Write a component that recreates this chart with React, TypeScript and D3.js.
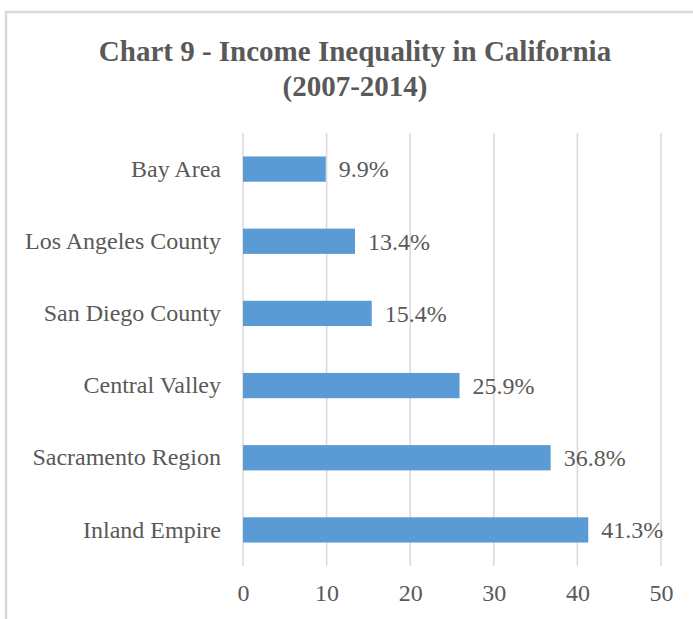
import { useEffect, useRef } from "react";
import * as d3 from "d3";

const WIDTH = 693;
const HEIGHT = 619;
const MARGIN = { top: 133, right: 32, bottom: 53, left: 243 };

const categories = [
  "Bay Area",
  "Los Angeles County",
  "San Diego County",
  "Central Valley",
  "Sacramento Region",
  "Inland Empire",
];
const values = [9.9, 13.4, 15.4, 25.9, 36.8, 41.3];
const xTicks = [0, 10, 20, 30, 40, 50];
const titleLines = ["Chart 9 - Income Inequality in California", "(2007-2014)"];

const FONT = "'Liberation Serif', 'Times New Roman', serif";
const TEXT = "#595959";

const App = () => {
  const ref = useRef<SVGGElement>(null);
  const boundsWidth = WIDTH - MARGIN.left - MARGIN.right;
  const boundsHeight = HEIGHT - MARGIN.top - MARGIN.bottom;

  const xScale = d3.scaleLinear().domain([0, 50]).range([0, boundsWidth]);
  const yScale = d3
    .scaleBand()
    .domain(categories)
    .range([0, boundsHeight])
    .paddingInner(0.65)
    .paddingOuter(0.325);

  useEffect(() => {
    const g = d3.select(ref.current);
    g.selectAll("*").remove();

    // vertical gridlines
    g.selectAll(".grid")
      .data(xTicks)
      .enter()
      .append("line")
      .attr("x1", (d) => xScale(d))
      .attr("x2", (d) => xScale(d))
      .attr("y1", 0)
      .attr("y2", boundsHeight)
      .style("stroke", "#d9d9d9")
      .style("stroke-width", 1.5);

    // bars
    g.selectAll(".bar")
      .data(values)
      .enter()
      .append("rect")
      .attr("x", xScale(0))
      .attr("y", (_, i) => yScale(categories[i]) || 0)
      .attr("width", (d) => xScale(d) - xScale(0))
      .attr("height", yScale.bandwidth())
      .style("fill", "#5b9bd5");

    // value labels
    g.selectAll(".val")
      .data(values)
      .enter()
      .append("text")
      .attr("x", (d) => xScale(d) + 13)
      .attr("y", (_, i) => (yScale(categories[i]) || 0) + yScale.bandwidth() / 2)
      .attr("dy", "0.35em")
      .style("font-family", FONT)
      .style("font-size", "24px")
      .style("fill", TEXT)
      .text((d) => `${d.toFixed(1)}%`);

    // category labels
    const yAxis = d3.axisLeft(yScale).tickSize(0).tickPadding(22);
    const ya = g.append("g").call(yAxis);
    ya.select(".domain").remove();
    ya.selectAll("text")
      .style("font-family", FONT)
      .style("font-size", "24px")
      .style("fill", TEXT);

    // x axis labels
    const xAxis = d3.axisBottom(xScale).tickValues(xTicks).tickSize(0).tickPadding(18);
    const xa = g.append("g").attr("transform", `translate(0,${boundsHeight})`).call(xAxis);
    xa.select(".domain").remove();
    xa.selectAll("text")
      .style("font-family", FONT)
      .style("font-size", "24px")
      .style("fill", TEXT);
  }, []);

  return (
    <svg width={WIDTH} height={HEIGHT} style={{ position: "absolute", left: 0, top: 0 }}>
      <rect x={0} y={0} width={WIDTH} height={HEIGHT} fill="#ffffff" />
      <rect x={6} y={12} width={WIDTH + 10} height={HEIGHT + 10} fill="none" stroke="#d9d9d9" strokeWidth={2.5} />
      {titleLines.map((t, i) => (
        <text
          key={t}
          x={355}
          y={61 + i * 35}
          textAnchor="middle"
          fontFamily={FONT}
          fontWeight="bold"
          fontSize={29}
          fill={TEXT}
        >
          {t}
        </text>
      ))}
      <g ref={ref} transform={`translate(${MARGIN.left},${MARGIN.top})`} />
    </svg>
  );
};

export default App;
